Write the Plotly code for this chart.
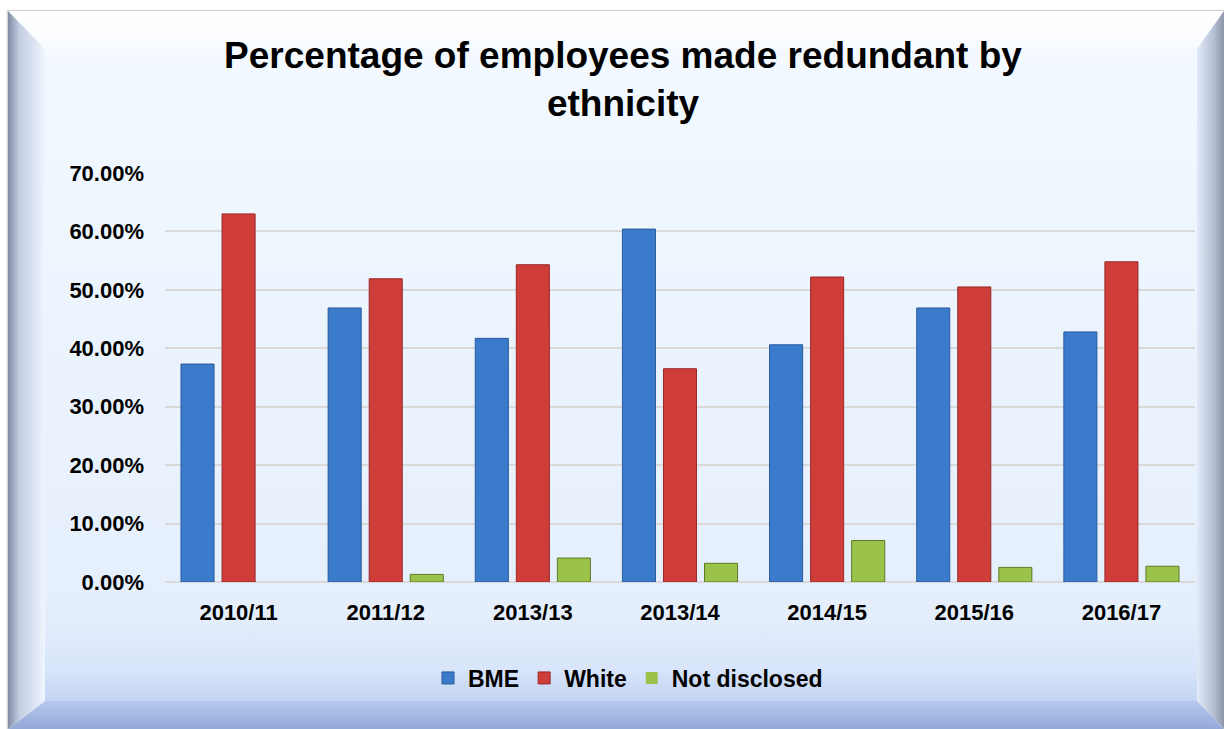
import base64
import plotly.graph_objects as go

# ---- data ----
years = ["2010/11", "2011/12", "2013/13", "2013/14", "2014/15", "2015/16", "2016/17"]
bme = [0.373, 0.469, 0.417, 0.604, 0.406, 0.469, 0.428]
white = [0.630, 0.519, 0.543, 0.365, 0.522, 0.505, 0.548]
not_disclosed = [0.0, 0.013, 0.041, 0.032, 0.071, 0.025, 0.027]
y_ticks = [0, 0.1, 0.2, 0.3, 0.4, 0.5, 0.6, 0.7]

W, H = 1224, 729
FONT = "Liberation Sans, Arial, sans-serif"

# ---- beveled, gradient background frame (decoration) ----
svg = f'''<svg xmlns="http://www.w3.org/2000/svg" width="{W}" height="{H}" viewBox="0 0 {W} {H}">
<defs>
<linearGradient id="face" x1="0" y1="49" x2="0" y2="701" gradientUnits="userSpaceOnUse">
<stop offset="0" stop-color="#f3f9ff"/><stop offset="0.5" stop-color="#eaf3fd"/>
<stop offset="0.86" stop-color="#e5effc"/><stop offset="0.95" stop-color="#d8e5fa"/>
<stop offset="1" stop-color="#c3d4f3"/></linearGradient>
<linearGradient id="top" x1="0" y1="11" x2="0" y2="49" gradientUnits="userSpaceOnUse">
<stop offset="0" stop-color="#ffffff"/><stop offset="1" stop-color="#f8fbff"/></linearGradient>
<linearGradient id="left" x1="8" y1="0" x2="45" y2="0" gradientUnits="userSpaceOnUse">
<stop offset="0" stop-color="#7f8aa1"/><stop offset="0.3" stop-color="#c3cde2"/>
<stop offset="1" stop-color="#eff6ff"/></linearGradient>
<linearGradient id="right" x1="1197" y1="0" x2="1224" y2="0" gradientUnits="userSpaceOnUse">
<stop offset="0" stop-color="#e1eaf8"/><stop offset="0.6" stop-color="#b7c1d5"/>
<stop offset="1" stop-color="#8c96ab"/></linearGradient>
<linearGradient id="bottom" x1="0" y1="701" x2="0" y2="729" gradientUnits="userSpaceOnUse">
<stop offset="0" stop-color="#b6c8ee"/><stop offset="1" stop-color="#93a9d8"/></linearGradient>
</defs>
<rect x="0" y="0" width="{W}" height="{H}" fill="#ffffff"/>
<line x1="7" y1="10.5" x2="{W}" y2="10.5" stroke="#d4d4d4" stroke-width="1.5"/>
<line x1="7.5" y1="10" x2="7.5" y2="{H}" stroke="#d4d4d4" stroke-width="1.5"/>
<rect x="45" y="49" width="1152" height="652" fill="url(#face)"/>
<polygon points="8,11 1224,11 1197,49 45,49" fill="url(#top)"/>
<polygon points="8,11 45,49 45,701 8,729" fill="url(#left)"/>
<polygon points="1224,11 1197,49 1197,701 1224,729" fill="url(#right)"/>
<polygon points="8,729 45,701 1197,701 1224,729" fill="url(#bottom)"/>
</svg>'''
bg_uri = "data:image/svg+xml;base64," + base64.b64encode(svg.encode()).decode()

fig = go.Figure()
series = [
    ("BME", bme, "#3b7bcb", "#285a9c"),
    ("White", white, "#cf3d39", "#98282a"),
    ("Not disclosed", not_disclosed, "#9bc24a", "#5d7a26"),
]
for name, vals, col, edge in series:
    fig.add_trace(go.Bar(
        name=name, x=years, y=vals,
        marker=dict(color=col,
                    line=dict(color=edge, width=[1 if v > 0 else 0 for v in vals])),
    ))

# plot area pixel bounds
px_left, px_right, px_top, px_bottom = 165, 1195, 173, 582

fig.update_layout(
    width=W, height=H,
    margin=dict(l=0, r=0, t=0, b=0, autoexpand=False),
    paper_bgcolor="#ffffff",
    plot_bgcolor="rgba(0,0,0,0)",
    barmode="group", bargap=0.163, bargroupgap=0.195,
    font=dict(family=FONT, color="#000000"),
    title=dict(
        text="Percentage of employees made redundant by<br>ethnicity",
        x=623 / W, xanchor="center", yref="container", y=1 - 68 / H, yanchor="middle",
        font=dict(family=FONT, size=37, weight="bold", color="#000000"),
    ),
    xaxis=dict(
        domain=[px_left / W, px_right / W], automargin=False,
        showgrid=False, showline=False, zeroline=False,
        ticks="", ticklabelstandoff=15,
        tickfont=dict(family=FONT, size=22, weight="bold", color="#000000"),
    ),
    yaxis=dict(
        domain=[(H - px_bottom) / H, (H - px_top) / H], automargin=False,
        range=[0, 0.7], tickvals=y_ticks, tickformat=".2%",
        showgrid=True, gridcolor="#d9d9d9", gridwidth=2,
        zeroline=True, zerolinecolor="#d9d9d9", zerolinewidth=2,
        showline=False, ticks="", ticklabelstandoff=20,
        tickfont=dict(family=FONT, size=22, weight="bold", color="#000000"),
    ),
    legend=dict(
        orientation="h", x=628 / W, xanchor="center", y=1 - 678 / H, yanchor="middle",
        bgcolor="rgba(0,0,0,0)",
        font=dict(family=FONT, size=23, weight="bold", color="#000000"),
        itemwidth=30,
    ),
    images=[dict(
        source=bg_uri, xref="paper", yref="paper", x=0, y=1,
        sizex=1, sizey=1, xanchor="left", yanchor="top",
        sizing="stretch", layer="below",
    )],
    showlegend=True,
)

fig.write_html("out.html")
